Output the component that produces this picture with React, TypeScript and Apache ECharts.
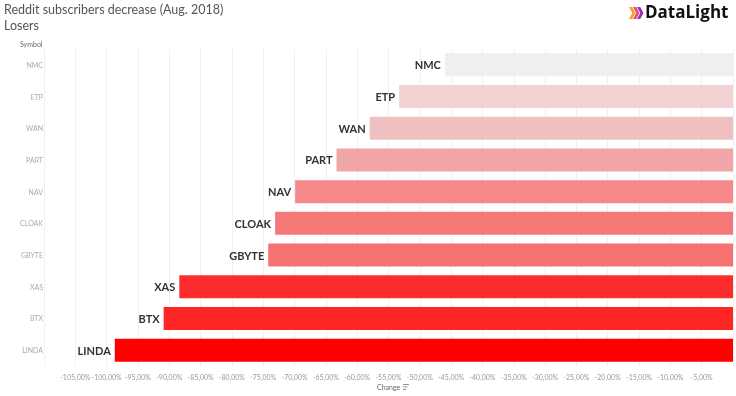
import React, { useEffect, useRef } from "react";
import * as echarts from "echarts";

const categories = ["LINDA", "BTX", "XAS", "GBYTE", "CLOAK", "NAV", "PART", "WAN", "ETP", "NMC"];
const changeValues = [-98.7, -90.9, -88.4, -74.2, -73.1, -69.9, -63.3, -58.0, -53.3, -46.0];
const barColors = ["#ff0000", "#fe2525", "#fd2d2d", "#f67272", "#f57878", "#f58888", "#f0a6a6", "#f0c0c0", "#f2d2d2", "#efefef"];

const FONT = "Lato, 'Open Sans', sans-serif";

export default function App() {
  const ref = useRef<HTMLDivElement>(null);
  useEffect(() => {
    if (!ref.current) return;
    const chart = echarts.init(ref.current, undefined, { renderer: "svg" });
    const chev = (x: number, color: string) => ({
      type: "polygon",
      shape: {
        points: [
          [x, 7],
          [x + 3.2, 7],
          [x + 6.5, 13],
          [x + 3.2, 19],
          [x, 19],
          [x + 3.3, 13],
        ],
      },
      style: { fill: color },
    });
    chart.setOption({
      animation: false,
      textStyle: { fontFamily: FONT },
      grid: { left: 44, right: 3, top: 49, bottom: 30, containLabel: false },
      xAxis: {
        type: "value",
        min: -110,
        max: 0,
        interval: 5,
        axisLine: { show: false },
        axisTick: { show: false },
        splitLine: { show: true, lineStyle: { color: "#f0f0f0", width: 1 } },
        axisLabel: {
          showMinLabel: false,
          showMaxLabel: false,
          fontSize: 7,
          color: "#999",
          margin: 7,
          fontFamily: FONT,
          formatter: (v: number) => `${v.toFixed(2).replace(".", ",")}%`,
        },
      },
      yAxis: {
        type: "category",
        data: categories,
        axisLine: { show: false },
        axisTick: { show: false },
        splitLine: { show: false },
        axisLabel: { fontSize: 7, color: "#aaa", margin: 1, fontFamily: FONT },
      },
      series: [
        {
          type: "bar",
          barWidth: 23,
          data: changeValues.map((v, i) => ({ value: v, itemStyle: { color: barColors[i] } })),
          label: {
            show: true,
            position: "left",
            distance: 4,
            formatter: (p: any) => p.name,
            fontSize: 11,
            fontWeight: "bold",
            color: "#333",
            fontFamily: FONT,
          },
        },
      ],
      graphic: [
        {
          type: "text",
          left: 4,
          top: 3,
          style: { text: "Reddit subscribers decrease (Aug. 2018)", fontSize: 12.5, fill: "#555", fontFamily: FONT },
        },
        {
          type: "text",
          left: 4,
          top: 19,
          style: { text: "Losers", fontSize: 12.5, fill: "#555", fontFamily: FONT },
        },
        {
          type: "text",
          left: 20,
          top: 40,
          style: { text: "Symbol", fontSize: 7, fill: "#666", fontFamily: FONT },
        },
        {
          type: "text",
          left: 377,
          top: 383,
          style: { text: "Change", fontSize: 7, fill: "#666", fontFamily: FONT },
        },
        { type: "rect", shape: { x: 403, y: 384, width: 6, height: 0.8 }, style: { fill: "#777" } },
        { type: "rect", shape: { x: 403, y: 386.5, width: 4.5, height: 0.8 }, style: { fill: "#777" } },
        { type: "rect", shape: { x: 403, y: 389, width: 3, height: 0.8 }, style: { fill: "#777" } },
        chev(629, "#f7a21b"),
        chev(633, "#e8467c"),
        chev(637, "#9a2fb0"),
        {
          type: "text",
          left: 645,
          top: 3,
          style: { text: "DataLight", fontSize: 17, fontWeight: "bold", fill: "#111", fontFamily: "'Open Sans', sans-serif" },
        },
      ],
    });
    return () => chart.dispose();
  }, []);
  return <div ref={ref} style={{ width: 736, height: 396, position: "fixed", left: 0, top: 0 }} />;
}
